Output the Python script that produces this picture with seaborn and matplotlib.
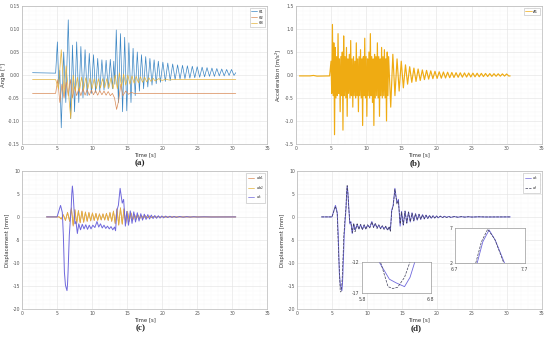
import numpy as np
import pandas as pd
import matplotlib
matplotlib.use("Agg")
import matplotlib.pyplot as plt
import seaborn as sns

# ---------------- data (turning points) ----------------
# (a) angles
TH1_T = [1.5, 4.8, 5.05, 5.25, 5.4, 5.6, 5.95, 6.25, 6.6, 6.95,
         7.2, 7.5, 7.8, 8.1, 8.4, 8.7, 9.0, 9.3, 9.6, 9.9,
         10.2, 10.5, 10.8, 11.1, 11.4, 11.7, 12.0, 12.3, 12.6, 12.9,
         13.1, 13.25, 13.45, 13.75, 14.05, 14.35, 14.65, 14.95, 15.25, 15.55,
         15.85, 16.15, 16.45, 16.75, 17.05, 17.35, 17.65, 17.95, 18.25, 18.55,
         18.85, 19.15, 19.45, 19.75, 20.1, 20.45, 20.8, 21.15, 21.5, 21.85,
         22.2, 22.55, 22.9, 23.25, 23.6, 23.95, 24.3, 24.65, 25.0, 25.35,
         25.7, 26.05, 26.4, 26.75, 27.1, 27.45, 27.8, 28.15, 28.5, 28.85,
         29.2, 29.55, 29.9, 30.25, 30.5]
TH1_V = [0.005, 0.004, 0.072, -0.02, 0.01, -0.115, 0.05, -0.06, 0.12, -0.095,
         0.065, -0.08, 0.072, -0.06, 0.062, -0.05, 0.055, -0.045, 0.047, -0.04,
         0.044, -0.038, 0.036, -0.035, 0.033, -0.033, 0.032, -0.03, 0.034, -0.03,
         0.03, -0.02, 0.098, -0.06, 0.09, -0.08, 0.082, -0.078, 0.07, -0.06,
         0.058, -0.045, 0.05, -0.035, 0.044, -0.03, 0.04, -0.026, 0.036, -0.022,
         0.033, -0.019, 0.03, -0.016, 0.028, -0.014, 0.026, -0.012, 0.024, -0.01,
         0.022, -0.009, 0.021, -0.008, 0.02, -0.007, 0.019, -0.006, 0.018, -0.005,
         0.017, -0.004, 0.016, -0.003, 0.015, -0.003, 0.014, -0.002, 0.013, -0.002,
         0.012, -0.001, 0.012, -0.001, 0.005]
TH2_T = [1.5, 4.8, 5.1, 5.4, 5.7, 6.0, 6.3, 6.6, 6.9, 7.2,
         7.5, 7.8, 8.1, 8.4, 8.7, 9.0, 9.3, 9.6, 9.9, 10.2,
         10.5, 10.8, 11.1, 11.4, 11.7, 12.0, 12.3, 12.6, 12.9, 13.2,
         13.5, 13.8, 14.1, 14.4, 14.8, 15.2, 15.6, 16.0, 30.5]
TH2_V = [-0.04, -0.04, -0.01, -0.06, -0.02, -0.05, -0.015, -0.045, -0.01, -0.05,
         -0.025, -0.045, -0.03, -0.045, -0.03, -0.044, -0.032, -0.044, -0.033, -0.043,
         -0.034, -0.044, -0.034, -0.043, -0.035, -0.044, -0.036, -0.045, -0.04, -0.05,
         -0.075, -0.055, -0.02, -0.045, -0.035, -0.042, -0.038, -0.04, -0.04]
TH3_T = [1.5, 4.8, 5.2, 5.6, 6.0, 6.3, 6.95, 7.3, 7.6, 7.9,
         8.2, 8.5, 8.8, 9.1, 9.4, 9.7, 10.0, 10.3, 10.6, 10.9,
         11.2, 11.5, 11.8, 12.1, 12.4, 12.7, 13.0, 13.3, 13.6, 13.9,
         14.2, 14.5, 14.8, 15.1, 15.4, 15.7, 16.0, 16.3, 16.6, 16.9,
         17.2, 17.5, 17.8, 18.1, 18.4, 18.7, 19.0, 19.5, 20.0, 20.5,
         21.0, 21.5, 22.0, 30.5]
TH3_V = [-0.01, -0.01, -0.03, 0.055, -0.04, 0.02, -0.095, 0.0, -0.035, -0.005,
         -0.035, -0.005, -0.032, -0.006, -0.03, -0.007, -0.03, -0.008, -0.03, -0.008,
         -0.028, -0.008, -0.028, -0.008, -0.028, -0.006, -0.03, 0.0, -0.03, 0.005,
         -0.025, 0.002, -0.022, 0.0, -0.02, -0.002, -0.018, -0.003, -0.017, -0.004,
         -0.016, -0.005, -0.015, -0.006, -0.014, -0.007, -0.013, -0.008, -0.012, -0.009,
         -0.011, -0.01, -0.01, -0.01]

# (b) acceleration
A1_T = [0.5, 2.0, 2.5, 3.0, 4.8,
        5.0, 5.1, 5.2, 5.3, 5.4, 5.5, 5.6, 5.7, 5.8, 5.9,
        6.0, 6.1, 6.2, 6.3, 6.4, 6.5, 6.6, 6.7, 6.8, 6.9,
        7.0, 7.1, 7.2, 7.3, 7.4, 7.5, 7.6, 7.7, 7.8, 7.9,
        8.0, 8.1, 8.2, 8.3, 8.4, 8.5, 8.6, 8.7, 8.8, 8.9,
        9.0, 9.1, 9.2, 9.3, 9.4, 9.5, 9.6, 9.7, 9.8, 9.9,
        10.0, 10.1, 10.2, 10.3, 10.4, 10.5, 10.6, 10.7, 10.8, 10.9,
        11.0, 11.1, 11.2, 11.3, 11.4, 11.5, 11.6, 11.7, 11.8, 11.9,
        12.0, 12.1, 12.2, 12.3, 12.4, 12.5, 12.6, 12.7, 12.8, 12.9,
        13.0, 13.1, 13.2,
        13.5, 13.8, 14.1, 14.4, 14.7, 15.0, 15.3, 15.6, 15.9, 16.2,
        16.5, 16.8, 17.1, 17.4, 17.7, 18.0, 18.3, 18.6, 18.9, 19.2,
        19.5, 19.8, 20.1, 20.4, 20.7, 21.0, 21.3, 21.6, 21.9, 22.2,
        22.5, 22.8, 23.1, 23.4, 23.7, 24.0, 24.3, 24.6, 24.9, 25.2,
        25.5, 25.8, 26.1, 26.4, 26.7, 27.0, 27.3, 27.6, 27.9, 28.2,
        28.5, 28.8, 29.1, 29.4, 29.7, 30.0, 30.3, 30.5]
A1_V = [-0.02, -0.02, -0.01, -0.025, -0.02,
        0.3, -0.4, 1.1, -0.45, 0.7, -1.3, 0.6, -0.5, 0.4, -0.45,
        0.9, -0.4, 0.35, -0.8, 0.4, -0.45, 0.5, -1.2, 0.85, -0.45,
        0.4, -0.5, 0.6, -0.9, 0.35, -0.4, 0.45, -0.5, 0.75, -0.45,
        0.35, -0.7, 0.4, -0.45, 0.3, -0.5, 0.7, -0.45, 0.35, -0.8,
        0.4, -0.45, 0.55, -0.5, 0.35, -1.1, 0.4, -0.45, 0.8, -0.5,
        0.4, -0.9, 0.35, -0.45, 0.5, -0.5, 0.9, -0.45, 0.4, -0.6,
        0.35, -1.1, 0.45, -0.5, 0.4, -0.45, 0.7, -0.5, 0.4, -0.9,
        0.35, -0.45, 0.6, -0.5, 0.4, -0.45, 0.55, -0.5, 0.35, -1.0,
        0.5, -0.45, 0.4,
        -0.7, 0.45, -0.45, 0.35, -0.35, 0.3, -0.28, 0.22, -0.2, 0.18,
        -0.16, 0.15, -0.14, 0.13, -0.12, 0.11, -0.1, 0.1, -0.09, 0.09,
        -0.08, 0.08, -0.075, 0.07, -0.07, 0.065, -0.065, 0.06, -0.06, 0.055,
        -0.055, 0.05, -0.05, 0.048, -0.048, 0.045, -0.045, 0.043, -0.043, 0.04,
        -0.04, 0.038, -0.038, 0.035, -0.035, 0.033, -0.033, 0.03, -0.03, 0.028,
        -0.028, 0.026, -0.026, 0.024, -0.024, 0.022, -0.022, -0.02]

# (c) displacements
DW_T = [3.5, 5.3, 5.6, 5.9, 6.2, 6.5, 6.8,
        7.05, 7.3, 7.55, 7.8, 8.05, 8.3, 8.55, 8.8, 9.05, 9.3,
        9.55, 9.8, 10.05, 10.3, 10.55, 10.8, 11.05, 11.3, 11.55, 11.8,
        12.05, 12.3, 12.55, 12.8, 13.05, 13.3, 13.55, 13.8, 14.05, 14.3,
        14.55, 14.8, 15.05, 15.3, 15.55, 15.8, 16.05, 16.3, 16.55, 16.8,
        17.05, 17.3,
        17.6, 17.9, 18.2, 18.5, 18.8, 19.1, 19.4, 19.7, 20.0,
        20.5, 21.0, 22.0, 30.5]
DW1_V = [0, 0, -0.5, 0.5, -0.8, 1.0, -1.0,
         2.0, -2.0, 1.6, -1.5, 1.4, -1.3, 1.3, -1.2, 1.1, -1.0,
         1.0, -0.9, 0.9, -0.8, 0.8, -0.8, 0.7, -0.7, 0.7, -0.7,
         0.8, -0.8, 1.0, -1.0, 1.3, -1.5, 1.8, -1.8, 2.0, -1.6,
         1.8, -1.5, 1.2, -1.0, 0.9, -0.7, 0.6, -0.5, 0.45, -0.4,
         0.35, -0.3,
         0.25, -0.22, 0.2, -0.15, 0.12, -0.1, 0.08, -0.06, 0.05,
         -0.03, 0.02, 0, 0]
DW2_V = [0, 0, -0.4, 0.4, -0.7, 0.9, -0.9,
         1.8, -1.8, 1.5, -1.4, 1.3, -1.2, 1.2, -1.1, 1.0, -0.9,
         0.9, -0.8, 0.8, -0.7, 0.7, -0.7, 0.6, -0.6, 0.6, -0.6,
         0.7, -0.7, 0.9, -0.9, 1.2, -1.4, 1.7, -1.7, 1.9, -1.5,
         1.7, -1.4, 1.1, -0.9, 0.8, -0.6, 0.5, -0.45, 0.4, -0.35,
         0.3, -0.25,
         0.22, -0.2, 0.18, -0.13, 0.1, -0.08, 0.06, -0.05, 0.04,
         -0.02, 0.01, 0, 0]
DS_T = [3.5, 5.0, 5.5, 5.75, 5.9, 6.05, 6.2, 6.3, 6.42, 6.5,
        6.57, 6.75, 6.9, 7.02, 7.1, 7.19, 7.28, 7.41, 7.55, 7.7,
        7.9, 8.1, 8.35, 8.6, 8.85, 9.1, 9.35, 9.6, 9.85, 10.1,
        10.4, 10.7, 10.95, 11.2, 11.45, 11.7, 11.95, 12.2, 12.45, 12.7,
        12.95, 13.2, 13.35, 13.55, 13.75, 14.0, 14.3, 14.5, 14.75, 14.95,
        15.2, 15.45, 15.7, 15.95, 16.2, 16.45, 16.7, 16.95, 17.2, 17.45,
        17.7, 17.95, 18.2, 18.45, 18.7, 18.95, 19.2, 19.45, 19.7, 19.95,
        20.2, 20.5, 20.8, 21.1, 21.4, 21.7, 22.0, 22.5, 23.0, 23.5,
        24.0, 24.5, 25.0, 26.0, 27.0, 30.5]
DS_V = [0, 0, 2.5, 1.0, -4.0, -12.0, -14.8, -15.4, -16.0, -14.5,
        -12.0, -4.0, -0.5, 2.0, 5.0, 6.7, 5.2, 2.0, -1.5, -1.0,
        -3.6, -1.5, -2.8, -1.6, -2.6, -1.7, -2.7, -1.8, -2.6, -1.8,
        -2.3, -1.0, -2.2, -1.5, -2.4, -1.8, -2.5, -2.0, -2.6, -2.1,
        -2.8, -2.2, -3.0, 1.5, 2.5, 6.2, 3.0, 3.8, -2.0, 1.2,
        -1.8, 1.3, -1.4, 1.1, -1.1, 0.9, -0.9, 0.7, -0.7, 0.6,
        -0.55, 0.5, -0.45, 0.4, -0.35, 0.3, -0.3, 0.25, -0.25, 0.2,
        -0.2, 0.18, -0.15, 0.14, -0.12, 0.1, -0.1, 0.08, -0.07, 0.06,
        -0.05, 0.04, -0.03, 0.02, -0.02, 0]

# (d) second displacement estimate (dashed)
DL_T = [3.5, 5.0, 5.5, 5.75, 5.9, 6.07, 6.18, 6.25, 6.32, 6.42,
        6.5, 6.7, 6.88, 7.0, 7.08, 7.17, 7.27, 7.4, 7.55, 7.7,
        7.9, 8.1, 8.3, 8.6, 8.85, 9.1, 9.35, 9.6, 9.85, 10.1,
        10.4, 10.7, 10.95, 11.2, 11.45, 11.7, 11.95, 12.2, 12.45, 12.7,
        12.95, 13.2, 13.35, 13.55, 13.75, 14.0, 14.3, 14.5, 14.75, 14.95,
        15.2, 15.45, 15.7, 15.95, 16.2, 16.45, 16.7, 16.95, 17.2, 17.45,
        17.7, 17.95, 18.2, 18.45, 18.7, 18.95, 19.2, 19.45, 19.7, 19.95,
        20.2, 20.5, 20.8, 21.1, 21.4, 21.7, 22.0, 22.5, 23.0, 23.5,
        24.0, 24.5, 25.0, 26.0, 27.0, 30.5]
DL_V = [0, 0, 2.3, 0.8, -6.0, -12.0, -16.0, -16.3, -16.1, -14.5,
        -12.0, -4.0, 0.0, 2.0, 5.0, 6.8, 5.4, 2.0, -1.2, -1.2,
        -3.4, -1.4, -3.2, -1.5, -2.7, -1.6, -2.8, -1.7, -2.7, -1.7,
        -2.4, -1.1, -2.3, -1.4, -2.5, -1.7, -2.6, -1.9, -2.7, -2.0,
        -2.9, -2.1, -3.1, 1.3, 2.3, 6.0, 2.8, 3.5, -1.5, 1.0,
        -1.7, 1.2, -1.3, 1.0, -1.0, 0.8, -0.8, 0.65, -0.65, 0.55,
        -0.5, 0.45, -0.4, 0.35, -0.3, 0.28, -0.27, 0.22, -0.22, 0.18,
        -0.18, 0.16, -0.14, 0.12, -0.11, 0.09, -0.09, 0.07, -0.06, 0.05,
        -0.04, 0.03, -0.03, 0.02, -0.01, 0]

for a, b in [(TH1_T, TH1_V), (TH2_T, TH2_V), (TH3_T, TH3_V), (A1_T, A1_V),
             (DW_T, DW1_V), (DW_T, DW2_V), (DS_T, DS_V), (DL_T, DL_V)]:
    assert len(a) == len(b), (len(a), len(b))

# ---------------- styling ----------------
sns.set_theme(style="whitegrid")
plt.rcParams['font.family'] = ['DejaVu Sans']
plt.rcParams['axes.unicode_minus'] = False
C_BLUE = "#3b86c4"
C_ORANGE = "#d98a55"
C_YELLOW = "#e3b23c"
C_DS = "#6f68dc"
C_DL = "#40405a"
C_ACC = "#efab12"

TICK_FS = 3.3
LAB_FS = 3.9

fig = plt.figure(figsize=(5.5, 3.37), dpi=100)
ax_a = fig.add_axes([0.040, 0.573, 0.446, 0.409])
ax_b = fig.add_axes([0.538, 0.573, 0.447, 0.409])
ax_c = fig.add_axes([0.040, 0.083, 0.446, 0.410])
ax_d = fig.add_axes([0.540, 0.083, 0.445, 0.410])


def style_axes(ax, ylim, ystep, ylabel, minor=True):
    ax.set_xlim(0, 35)
    ax.set_ylim(*ylim)
    ax.set_xticks(np.arange(0, 36, 5))
    ax.set_yticks(np.round(np.arange(ylim[0], ylim[1] + ystep / 2, ystep), 4))
    if minor:
        ax.set_xticks(np.arange(0, 35.01, 1), minor=True)
        ax.set_yticks(np.round(np.arange(ylim[0], ylim[1] + 1e-9, ystep / 5), 5), minor=True)
        ax.grid(which='minor', color='#eeeeee', lw=0.3, ls=':')
    ax.grid(which='major', color='#e2e2e2', lw=0.4, ls='-')
    ax.set_facecolor('white')
    for s in ax.spines.values():
        s.set_color('#b8b8b8')
        s.set_linewidth(0.5)
    ax.tick_params(axis='both', which='both', labelsize=TICK_FS, colors='#555555',
                   length=1.2, width=0.3, direction='in', pad=1.5)
    ax.tick_params(which='minor', length=0)
    ax.set_xlabel('Time [s]', fontsize=LAB_FS, color='#333333', labelpad=1)
    ax.set_ylabel(ylabel, fontsize=LAB_FS, color='#333333', labelpad=1.5)


def draw(ax, t, v, color, label, lw=0.55, ls='-'):
    sns.lineplot(x=t, y=v, ax=ax, color=color, lw=lw, ls=ls, label=label,
                 sort=False, estimator=None, errorbar=None)


def small_legend(ax):
    leg = ax.legend(loc='upper right', fontsize=2.8, frameon=True, handlelength=1.6,
                    borderpad=0.4, labelspacing=0.5, handletextpad=0.4, fancybox=False)
    leg.get_frame().set_edgecolor('#aaaaaa')
    leg.get_frame().set_linewidth(0.4)
    for line in leg.get_lines():
        line.set_linewidth(0.5)


# (a)
draw(ax_a, TH1_T, TH1_V, C_BLUE, 'θ1', lw=0.5)
draw(ax_a, TH2_T, TH2_V, C_ORANGE, 'θ2', lw=0.5)
draw(ax_a, TH3_T, TH3_V, C_YELLOW, 'θ3', lw=0.5)
style_axes(ax_a, (-0.15, 0.15), 0.05, 'Angle [°]')
ax_a.set_yticklabels([f"{v:.2f}" for v in np.arange(-0.15, 0.151, 0.05)])
small_legend(ax_a)

# (b)
draw(ax_b, A1_T, A1_V, C_ACC, 'A1', lw=0.85)
style_axes(ax_b, (-1.5, 1.5), 0.5, 'Acceleration [m/s$^2$]')
ax_b.set_yticklabels([f"{v:.1f}" for v in np.arange(-1.5, 1.51, 0.5)])
small_legend(ax_b)

# (c)
draw(ax_c, DW_T, DW1_V, C_ORANGE, '$d_{w1}$')
draw(ax_c, DW_T, DW2_V, C_YELLOW, '$d_{w2}$')
draw(ax_c, DS_T, DS_V, C_DS, '$d_s$', lw=0.7)
style_axes(ax_c, (-20, 10), 5, 'Displacement [mm]')
small_legend(ax_c)

# (d)
draw(ax_d, DS_T, DS_V, C_DS, '$d_s$', lw=0.7)
draw(ax_d, DL_T, DL_V, C_DL, '$d_l$', lw=0.5, ls='--')
style_axes(ax_d, (-20, 10), 5, 'Displacement [mm]')
small_legend(ax_d)

# insets in (d)
ins1 = fig.add_axes([0.658, 0.131, 0.125, 0.092])
ins2 = fig.add_axes([0.827, 0.220, 0.127, 0.104])
for ins, xl, yl in [(ins1, (5.8, 6.8), (-17, -12)), (ins2, (6.7, 7.7), (2, 7))]:
    sns.lineplot(x=DS_T, y=DS_V, ax=ins, color=C_DS, lw=0.6, sort=False,
                 estimator=None, errorbar=None)
    sns.lineplot(x=DL_T, y=DL_V, ax=ins, color=C_DL, lw=0.5, ls='--', sort=False,
                 estimator=None, errorbar=None)
    ins.set_xlim(*xl)
    ins.set_ylim(*yl)
    ins.set_xticks(list(xl))
    ins.set_yticks(list(yl))
    ins.set_xticklabels([f"{v:.1f}" for v in xl])
    ins.set_yticklabels([f"{v:.0f}" for v in yl])
    ins.grid(False)
    ins.set_facecolor('white')
    for s in ins.spines.values():
        s.set_color('#999999')
        s.set_linewidth(0.5)
    ins.tick_params(axis='y', labelsize=TICK_FS, colors='#444444', length=0, pad=1.5)
    ins.tick_params(axis='x', labelsize=TICK_FS, colors='#444444', length=0, pad=2.8)
    ins.set_xlabel('')
    ins.set_ylabel('')

# panel labels
for x, y, s in [(0.255, 0.505, '(a)'), (0.755, 0.505, '(b)'),
                (0.255, 0.013, '(c)'), (0.756, 0.013, '(d)')]:
    fig.text(x, y, s, ha='center', va='bottom', fontsize=6.5, fontweight='bold',
             family='Liberation Serif')

fig.savefig('out.png', dpi=100, facecolor='white')
